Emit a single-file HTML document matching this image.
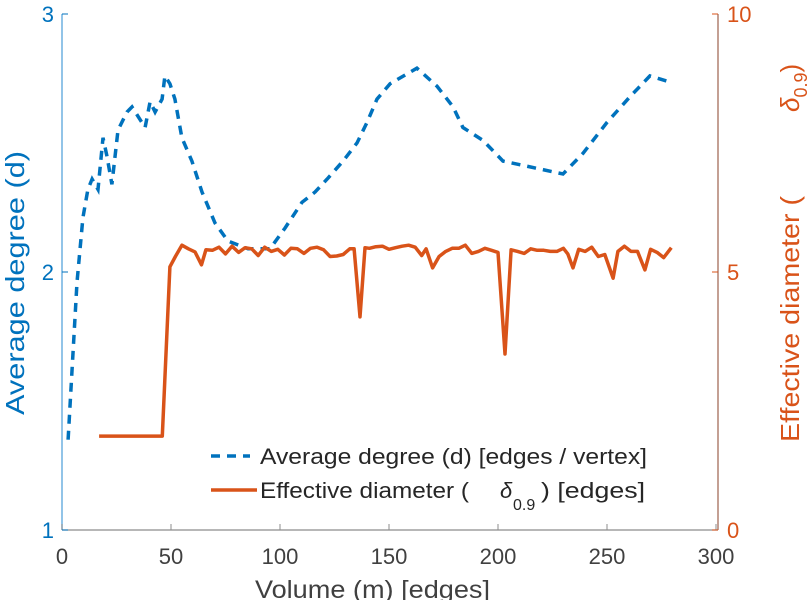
<!DOCTYPE html>
<html><head><meta charset="utf-8"><style>
html,body{margin:0;padding:0;background:#fff;}
svg text{font-family:"Liberation Sans","DejaVu Sans",sans-serif;}
</style></head><body>
<svg id="chart" width="812" height="600" viewBox="0 0 812 600" xmlns="http://www.w3.org/2000/svg">
<g id="axes"></g>
<g id="series"></g>
<g id="legend">
  <line x1="211" y1="456" x2="250" y2="456" stroke="#0072BD" stroke-width="3.5" stroke-dasharray="9,7"/>
  <text x="260" y="464" font-size="22" fill="#262626" textLength="387" lengthAdjust="spacingAndGlyphs">Average degree (d) [edges / vertex]</text>
  <line x1="211" y1="490" x2="257" y2="490" stroke="#D95319" stroke-width="3.5"/>
  <text x="260" y="498" font-size="22" fill="#262626" textLength="209" lengthAdjust="spacingAndGlyphs">Effective diameter (</text>
  <text x="500" y="498" font-size="22" font-style="italic" fill="#262626">δ</text>
  <text x="513" y="510" font-size="16" fill="#262626">0.9</text>
  <text x="541" y="498" font-size="22" fill="#262626" textLength="104" lengthAdjust="spacingAndGlyphs">) [edges]</text>
</g>
</svg>
<script>
const xTicks=[0,50,100,150,200,250,300];
const leftTicks=[1,2,3];
const rightTicks=[0,5,10];
const degreeX=[2.8,6.9,9.6,11.9,13.8,16.5,18.8,20.6,22.9,25.7,29.8,32.1,38.1,40.4,42.7,45.9,47.2,49.5,51.8,55.0,59.6,64.2,70.2,76.1,85.3,95.4,102.3,110.1,116.1,121.6,128.9,135.3,139.9,144.5,150.5,162.8,172.0,179.4,183.9,193.1,202.3,213.3,229.8,239.0,250.0,260.6,269.7,277.5];
const degreeY=[1.35,1.96,2.21,2.32,2.36,2.32,2.52,2.45,2.34,2.55,2.62,2.64,2.56,2.66,2.62,2.67,2.76,2.73,2.67,2.52,2.43,2.31,2.19,2.12,2.09,2.09,2.17,2.27,2.31,2.36,2.43,2.50,2.58,2.67,2.73,2.79,2.72,2.64,2.56,2.51,2.43,2.41,2.38,2.46,2.58,2.68,2.76,2.74];
const diamX=[17,46,49.5,52,55,58,61,64,66,69,72,75,78,81,84,87,90,93,96,99,102,105,108,111,114,117,120,123,126,129,132,134,136.7,139,141,144,147,150,153,156,159,162,165,167,170,173,176,179,182,185,188,191,194,197,200,203.2,206,209,212,215,218,221,224,227,230,232,234.4,237,240,243,246,249,252.8,255,258,261,264,267.4,270,273,276,279.5];
const diamY=[1.82,1.82,5.10,5.30,5.52,5.45,5.39,5.14,5.43,5.42,5.48,5.35,5.50,5.38,5.47,5.45,5.32,5.48,5.40,5.44,5.33,5.46,5.45,5.36,5.46,5.48,5.43,5.30,5.31,5.34,5.45,5.45,4.13,5.47,5.46,5.49,5.50,5.44,5.47,5.50,5.52,5.48,5.32,5.45,5.08,5.30,5.40,5.46,5.46,5.52,5.36,5.40,5.46,5.42,5.38,3.41,5.43,5.40,5.36,5.45,5.42,5.42,5.40,5.40,5.46,5.35,5.08,5.44,5.40,5.48,5.30,5.34,4.88,5.40,5.50,5.40,5.40,5.04,5.44,5.38,5.28,5.47];
const X0=62,X1=716,Y0=530,Y1=14;
function sx(v){return X0+(v/300)*(X1-X0);}
function syL(v){return Y0-(v-1)/2*(Y0-Y1);}
function syR(v){return Y0-v/10*(Y0-Y1);}
const NS="http://www.w3.org/2000/svg";
function mk(tag,attrs,parent,txt){const e=document.createElementNS(NS,tag);for(const k in attrs)e.setAttribute(k,attrs[k]);if(txt!==undefined)e.textContent=txt;parent.appendChild(e);return e;}
const ax=document.getElementById('axes');
let e;
e=mk('line',{x1:X0,y1:Y0,x2:718,y2:Y0,stroke:'#8c8c8c','stroke-width':1.2},ax);


e=mk('line',{x1:X0,y1:Y0,x2:X0,y2:Y1,stroke:'#6fb0e0','stroke-width':1.5},ax);


e=mk('line',{x1:718,y1:Y0,x2:718,y2:Y1,stroke:'#b08070','stroke-width':1.5},ax);


xTicks.forEach(t=>{
  const x=sx(t);
  e=mk('line',{x1:x,y1:Y0,x2:x,y2:Y0-6,stroke:'#8c8c8c','stroke-width':1},ax);
  
  
  e=mk('text',{x:x,y:564,'text-anchor':'middle','font-size':22,fill:'#404040'},ax,String(t));
  
  
});
leftTicks.forEach(t=>{
  const y=syL(t);
  e=mk('line',{x1:X0,y1:y,x2:X0+6,y2:y,stroke:'#0072BD','stroke-width':1},ax);
  
  
  e=mk('text',{x:54,y:y+8,'text-anchor':'end','font-size':22,fill:'#0072BD'},ax,String(t));
  
  
});
rightTicks.forEach(t=>{
  const y=syR(t);
  e=mk('line',{x1:718,y1:y,x2:712,y2:y,stroke:'#D95319','stroke-width':1},ax);
  
  
  e=mk('text',{x:727,y:y+8,'text-anchor':'start','font-size':22,fill:'#D95319'},ax,String(t));
  
  
});
e=mk('text',{x:255,y:598,'font-size':25,fill:'#404040',textLength:235,lengthAdjust:'spacingAndGlyphs'},ax,'Volume (m) [edges]');


e=mk('text',{x:0,y:0,'font-size':26,fill:'#0072BD',transform:'translate(24,415) rotate(-90)',textLength:264,lengthAdjust:'spacingAndGlyphs'},ax,'Average degree (d)');


const rt=mk('text',{x:0,y:0,'font-size':26,fill:'#D95319',transform:'translate(799,442) rotate(-90)'},ax);


rt.innerHTML='<tspan textLength="246" lengthAdjust="spacingAndGlyphs">Effective diameter (</tspan><tspan x="330" font-style="italic">δ</tspan><tspan font-size="18" dy="8">0.9</tspan><tspan dy="-8">)</tspan>';
const sr=document.getElementById('series');
const dp=degreeX.map((v,i)=>sx(v).toFixed(1)+','+syL(degreeY[i]).toFixed(1)).join(' ');
e=mk('polyline',{points:dp,fill:'none',stroke:'#0072BD','stroke-width':3.5,'stroke-dasharray':'9,7'},sr);


const rp=diamX.map((v,i)=>sx(v).toFixed(1)+','+syR(diamY[i]).toFixed(1)).join(' ');
e=mk('polyline',{points:rp,fill:'none',stroke:'#D95319','stroke-width':3.5,'stroke-linejoin':'round'},sr);


</script>
</body></html>
